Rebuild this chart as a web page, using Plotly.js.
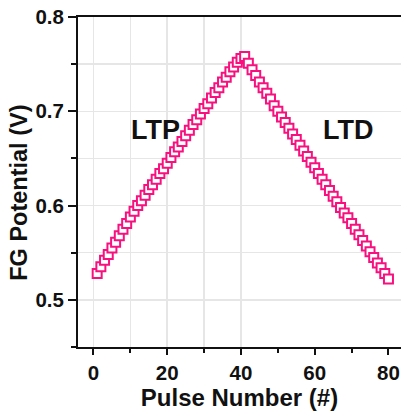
<!DOCTYPE html>
<html>
<head>
<meta charset="utf-8">
<script src="https://cdn.plot.ly/plotly-3.0.1.min.js"></script>
<style>html,body{margin:0;padding:0;background:#fff;}#chart{width:401px;height:414px;}</style>
</head>
<body>
<div id="chart"></div>
<script>
// Pulse numbers
const ltpPulses = [1,2,3,4,5,6,7,8,9,10,11,12,13,14,15,16,17,18,19,20,21,22,23,24,25,26,27,28,29,30,31,32,33,34,35,36,37,38,39,40];
const ltdPulses = [41,42,43,44,45,46,47,48,49,50,51,52,53,54,55,56,57,58,59,60,61,62,63,64,65,66,67,68,69,70,71,72,73,74,75,76,77,78,79,80];
// FG potential (V)
const ltpValues = [0.528,0.535,0.542,0.548,0.555,0.561,0.568,0.575,0.581,0.588,
                   0.594,0.600,0.605,0.611,0.617,0.622,0.628,0.634,0.639,0.645,
                   0.651,0.657,0.662,0.668,0.674,0.680,0.686,0.691,0.697,0.703,
                   0.708,0.714,0.720,0.725,0.731,0.736,0.742,0.747,0.752,0.756];
const ltdValues = [0.758,0.751,0.744,0.738,0.731,0.725,0.719,0.713,0.706,0.700,
                   0.694,0.688,0.682,0.676,0.670,0.664,0.658,0.652,0.646,0.640,
                   0.634,0.628,0.622,0.616,0.610,0.604,0.598,0.592,0.587,0.581,
                   0.575,0.569,0.563,0.557,0.551,0.545,0.539,0.534,0.528,0.522];
const xTicks = [0,20,40,60,80];
const xGridVals = [0,10,20,30,40];
const labels = ['LTP','LTD'];
const labelX = [16.7, 69];
const labelY = [0.68, 0.68];
const yTitle = 'FG Potential (V)';
const xTitle = 'Pulse Number (#)';

const pulses = ltpPulses.concat(ltdPulses);
const values = ltpValues.concat(ltdValues);

const FONT = 'Arial, "Liberation Sans", sans-serif';
const PINK = '#F8107F';

const traces = [
  {
    x: pulses, y: values, type: 'scatter', mode: 'markers',
    marker: {symbol: 'square', size: 9, color: '#ffffff', line: {color: PINK, width: 2}},
    hoverinfo: 'skip', showlegend: false
  },
  {
    x: pulses, y: values, type: 'scatter', mode: 'none', xaxis: 'x2',
    hoverinfo: 'skip', showlegend: false
  }
];

const annotations = labels.map((t, i) => ({
  x: labelX[i], y: labelY[i], xref: 'x', yref: 'y',
  text: t, showarrow: false,
  font: {family: FONT, size: 27, color: '#111', weight: 'bold'},
  xanchor: 'center', yanchor: 'middle'
}));
annotations.push({
  x: -0.183, y: 0.467, xref: 'paper', yref: 'paper',
  text: yTitle, textangle: -90, showarrow: false,
  font: {family: FONT, size: 23.5, color: '#111', weight: 'bold'},
  xanchor: 'center', yanchor: 'middle'
});

const layout = {
  width: 401, height: 414,
  margin: {l: 78, r: 0, t: 17, b: 67},
  paper_bgcolor: '#fff', plot_bgcolor: '#fff',
  showlegend: false,
  font: {family: FONT, color: '#111'},
  xaxis: {
    range: [-4.2, 83.4],
    tickvals: xTicks, ticktext: xTicks.map(String),
    showgrid: false, zeroline: false,
    showline: true, linecolor: '#111', linewidth: 2,
    ticks: 'outside', ticklen: 6, tickwidth: 2, tickcolor: '#111',
    minor: {dtick: 10, tick0: 0, ticks: 'outside', ticklen: 4, tickwidth: 2, tickcolor: '#111', showgrid: false},
    tickfont: {family: FONT, size: 20.5, color: '#111', weight: 'bold'},
    title: {text: xTitle, font: {family: FONT, size: 24, color: '#111', weight: 'bold'}, standoff: 7},
    layer: 'above traces'
  },
  xaxis2: {
    overlaying: 'x', side: 'top', anchor: 'y',
    range: [-4.2, 83.4],
    tickvals: xGridVals, showticklabels: false, ticks: '',
    showgrid: true, gridcolor: '#e6e6e6', gridwidth: 1.5,
    zeroline: false, showline: true, linecolor: '#111', linewidth: 2
  },
  yaxis: {
    range: [0.45, 0.8],
    dtick: 0.1, tick0: 0.5, tickformat: '.1f',
    showgrid: true, gridcolor: '#e6e6e6', gridwidth: 1.5, zeroline: false,
    showline: true, linecolor: '#111', linewidth: 2,
    ticks: 'outside', ticklen: 8, tickwidth: 2, tickcolor: '#111',
    minor: {dtick: 0.05, tick0: 0.5, ticks: 'outside', ticklen: 5, tickwidth: 2, tickcolor: '#111', showgrid: true, gridcolor: '#e6e6e6', gridwidth: 1.5},
    tickfont: {family: FONT, size: 20.5, color: '#111', weight: 'bold'},
    layer: 'above traces'
  },
  annotations: annotations
};

Plotly.newPlot('chart', traces, layout, {displayModeBar: false, staticPlot: true});
</script>
</body>
</html>
